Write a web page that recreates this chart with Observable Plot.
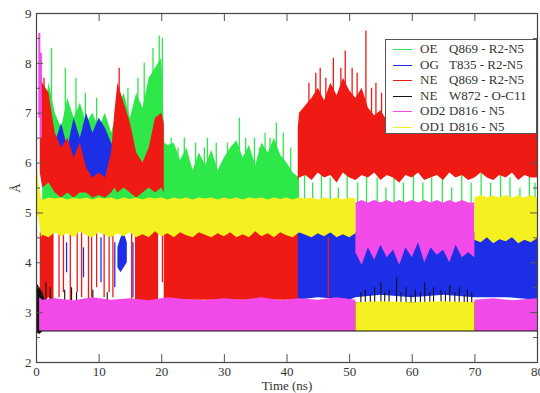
<!DOCTYPE html>
<html>
<head>
<meta charset="utf-8">
<script src="https://cdn.jsdelivr.net/npm/d3@7"></script>
<script src="https://cdn.jsdelivr.net/npm/@observablehq/plot@0.6"></script>
<style>
  html, body { margin: 0; padding: 0; background: #fff; }
  #wrap { position: relative; width: 540px; height: 393px; }
  #wrap svg, #wrap svg text { font-family: "Liberation Serif", "DejaVu Serif", "Times New Roman", serif !important; }
  #legend { position: absolute; left: 385px; top: 39px; width: 150px; height: 93px;
    border: 1px solid #555; background: #fff; font-family: "Liberation Serif", "DejaVu Serif", serif;
    font-size: 13px; color: #333; }
  .row { position: absolute; left: 0; height: 15px; width: 150px; }
  .swatch { position: absolute; left: 7px; top: 8px; width: 19px; height: 1px; }
  .a { position: absolute; left: 34px; top: 0; line-height: 15px; }
  .b { position: absolute; left: 63px; top: 0; line-height: 15px; }
</style>
</head>
<body>
<div id="wrap"></div>
<script>
// ---- axis ticks ----
const xTicks = [0, 10, 20, 30, 40, 50, 60, 70, 80];
const yTicks = [2, 3, 4, 5, 6, 7, 8, 9];
const yMinor = [2.5, 3.5, 4.5, 5.5, 6.5, 7.5, 8.5];

// ---- legend ----
const seriesAtom = ["OE", "OG", "NE", "NE", "OD2", "OD1"];
const seriesPair = ["Q869 - R2-N5", "T835 - R2-N5", "Q869 - R2-N5", "W872 - O-C11", "D816 - N5", "D816 - N5"];
const seriesColor = ["#2ee84a", "#1c2fe6", "#f01a14", "#111111", "#f24ae8", "#f5f020"];

// ---- bands: [time ns, low Å, high Å]; null row = gap ----
const greenBand = [
[1,5.0,6.8],[2,5.0,7.6],[3,5.0,7.0],[4,5.0,6.7],[5,5.0,7.3],[6,5.0,6.9],[7,5.0,7.2],[8,5.0,6.8],[9,5.0,7.0],[10,5.0,6.7],
[11,5.0,7.0],[12,5.0,6.6],[13,5.0,7.1],[14,5.0,7.4],[15,5.0,6.9],[16,5.0,7.4],[17,5.0,7.1],[18,5.0,7.7],[19,5.0,7.9],[20,5.0,8.1],
[20.5,5.0,6.4],[21,5.0,6.35],[22,5.0,6.4],[23,5.0,6.05],[24,5.0,6.3],[25,5.0,5.85],[26,5.0,6.2],[27,5.0,5.95],[28,5.0,6.25],[29,5.0,5.85],[30,5.0,6.1],
[31,5.0,6.3],[32,5.0,6.45],[33,5.0,6.1],[34,5.0,6.35],[35,5.0,5.95],[36,5.0,6.4],[37,5.0,6.2],[38,5.0,6.5],[39,5.0,6.15],[40,5.0,6.0],[41,5.0,5.8],[42,5.0,5.7]];
const greenSpikes = [[2.4,5.5,8.3],[4.6,5.5,7.9],[6.3,5.5,7.7],[7.8,5.5,7.4],[9.6,5.5,7.3],[14.6,5.5,7.5],[16.2,5.5,7.7],
[17.2,5.5,8.0],[18.6,5.5,8.3],[19.6,5.5,8.55],[20.1,5.5,8.5],
[21.5,5.5,6.5],[22.6,5.5,6.3],[23.6,5.3,6.5],[25.4,5.5,6.4],[26.8,5.5,6.3],[27.3,5.3,6.5],[28.7,5.5,6.4],[30.5,5.5,6.4],[32.4,5.3,6.9],
[33.4,5.5,6.5],[34.8,5.5,6.5],[35.6,5.5,6.3],[36.5,5.3,6.6],[37.3,5.5,6.5],[38.3,5.3,6.8],[39.4,5.5,6.6],[40.6,5.5,6.3],
[42.8,5.2,5.8],[44.1,5.2,5.6],[45.5,5.2,5.9],[46.9,5.2,5.7],[48.2,5.2,5.5],[49.6,5.2,5.8],[51.3,5.2,5.6],[52.7,5.2,5.9],
[54.4,5.2,5.7],[55.8,5.2,5.5],[57.1,5.2,5.8],[58.6,5.2,5.6],[60.2,5.2,5.9],[61.7,5.2,5.6],[63.1,5.2,5.7],[64.8,5.2,5.8],
[66.3,5.2,5.5],[67.9,5.2,5.9],[69.4,5.2,5.6],[71,5.2,5.8],[72.5,5.2,5.6],[74.1,5.2,5.9],[75.6,5.2,5.7],[77.2,5.2,5.5],[78.7,5.2,5.8],[79.6,5.2,5.6]];

const blueUpper = [[2.5,5.6,6.3],[3,5.6,6.4],[4,5.5,6.8],[5,5.7,6.3],[6,5.5,6.9],[7,5.6,6.5],[8,5.5,7.0],[9,5.4,6.6],[10,5.5,6.9],
[11,5.6,6.7],[12,5.7,6.4],[13,5.8,6.2],[14,5.6,6.0],[15,5.7,6.3],[16,5.6,5.9]];
const blueLower = [[13,3.9,4.3],[13.5,3.8,4.5],[14,3.9,4.6],[14.5,4.0,4.4],[14.6,null,null],
[41.6,3.25,4.6],[45,3.3,4.6],[50,3.25,4.6],[51,3.3,4.6],[55,3.35,4.6],[60,3.3,4.6],[65,3.35,4.6],[70,3.3,4.6],[75,3.3,4.6],[80,3.25,4.6]];
const blueSpikes = [[0.9,3.3,3.6],[2.5,3.6,4.4],[4.8,3.8,4.4],[7.5,3.7,4.3],[10.3,3.6,4.5],[12.5,3.5,4.4],[15.4,3.3,4.4],[17.5,3.6,4.5]];

const redUpper = [[0.6,5.8,8.0],[1,5.5,7.6],[2,5.6,7.4],[3,5.4,6.6],[4,5.3,6.3],[5,5.4,6.5],[6,5.3,6.1],[7,5.4,6.4],[8,5.4,5.9],
[9,5.3,5.7],[10,5.35,5.8],[11,5.3,5.7],[12,5.4,6.2],[12.5,5.5,7.0],[13,5.4,7.6],[14,5.5,7.2],[15,5.4,6.8],[16,5.3,6.2],[17,5.4,6.0],
[18,5.5,6.3],[19,5.4,6.9],[20,5.5,7.0],[20.4,5.4,6.8],[20.5,null,null],
[41.8,5.65,6.7],[42,5.7,7.0],[43,5.75,7.15],[44,5.65,7.3],[45,5.8,7.5],[46,5.7,7.25],[47,5.75,7.6],[48,5.6,7.35],[49,5.8,7.7],[50,5.7,7.45],
[51,5.65,7.3],[52,5.75,7.5],[53,5.7,7.1],[54,5.8,6.95],[55,5.65,7.05],[56,5.75,6.85],[57,5.7,6.95],[58,5.6,6.8],[59,5.75,7.0],[60,5.7,6.9],
[61,5.8,6.85],[62,5.65,6.95],[63,5.7,6.8],[64,5.75,6.9],[65,5.65,7.0],[66,5.8,6.8],[67,5.7,6.9],[68,5.75,6.85],[69,5.65,6.95],[70,5.7,6.8],
[71,5.8,6.9],[72,5.7,6.85],[73,5.65,6.95],[74,5.75,6.8],[75,5.7,6.9],[76,5.8,6.85],[77,5.65,6.95],[78,5.75,6.8],[79,5.7,6.9],[80,5.7,6.85]];
const redLower = [[0.6,3.3,4.6],[1,3.2,4.6],[2,3.3,4.6],[2.8,3.2,4.6],[2.9,null,null],
[15.8,3.2,4.65],[16,3.1,4.65],[17,3.2,4.65],[18,3.1,4.65],[19,3.2,4.65],[19.5,3.1,4.65],[19.6,null,null],
[20.4,3.25,4.65],[25,3.25,4.65],[30,3.25,4.65],[35,3.25,4.65],[41.8,3.25,4.65]];
const redSpikes = [[1.2,6.0,7.7],[13.2,6.0,7.9],[43.5,6.8,7.6],[44.6,6.8,7.8],[45.3,6.5,7.9],[46.2,6.8,7.7],[47.4,6.5,8.1],[48.6,6.8,7.9],
[49.3,6.5,8.25],[50.4,6.8,7.9],[51.2,6.5,7.8],[52.6,6.5,8.65],[53.5,6.8,7.5],[54.2,6.5,7.6],[55.1,6.8,7.4],
[3.6,3.3,4.6],[4.3,3.4,4.6],[5.4,3.2,4.6],[6.5,3.4,4.6],[7.2,3.3,4.6],[8.3,3.2,4.6],[8.8,3.3,4.6],[9.6,3.5,4.6],[10.8,3.3,4.6],
[11.6,3.4,4.6],[12.2,3.3,4.6],[15.2,3.2,4.6],[20.1,3.6,4.6],[46.6,3.3,4.5]];

const blackBand = [[0,2.6,3.6],[0.5,2.56,3.5],[1,2.61,3.4],[1.5,2.61,3.2],[80,2.61,3.2]];
const blackSpikes = [[1.5,3.0,3.6],[2.2,3.0,3.5],[4.5,3.0,3.45],[5.6,3.0,3.5],[6.4,3.0,3.4],[9,3.0,3.45],[11.3,3.0,3.4],
[51.8,3.0,3.4],[52.5,3.0,3.45],[53.3,3.0,3.35],[54,3.0,3.5],[55,3.0,3.6],[55.6,3.0,3.4],[56.3,3.0,3.45],[57.5,3.0,3.7],[58.2,3.0,3.4],
[59,3.0,3.5],[59.8,3.0,3.35],[60.5,3.0,3.45],[61.3,3.0,3.4],[62,3.0,3.6],[62.8,3.0,3.4],[63.4,3.0,3.5],[64.6,3.0,3.45],[65.3,3.0,3.4],
[66,3.0,3.55],[66.8,3.0,3.4],[67.5,3.0,3.5],[68.3,3.0,3.35],[68.8,3.0,3.45],[69.5,3.0,3.4]];

const magentaLow = [[0.5,2.63,3.3],[1,2.63,3.25],[3,2.63,3.28],[6,2.63,3.24],[9,2.63,3.3],[12,2.63,3.25],[15,2.63,3.28],[18,2.63,3.24],
[21,2.63,3.3],[24,2.63,3.26],[27,2.63,3.24],[30,2.63,3.28],[33,2.63,3.25],[36,2.63,3.3],[39,2.63,3.24],[42,2.63,3.28],[45,2.63,3.25],
[48,2.63,3.3],[51,2.63,3.25],[51.05,null,null],
[70,2.63,3.25],[73,2.63,3.28],[76,2.63,3.24],[80,2.63,3.28]];
const magentaHigh = [[51,4.2,5.2],[52,3.95,5.25],[53,4.3,5.2],[54,4.05,5.25],[55,4.35,5.2],[56,4.1,5.25],[57,4.25,5.2],[58,3.95,5.25],
[59,4.3,5.2],[60,4.1,5.25],[61,4.4,5.2],[62,4.0,5.25],[63,4.3,5.2],[64,4.15,5.25],[65,4.25,5.2],[66,4.0,5.25],[67,4.35,5.2],[68,4.1,5.25],
[69,4.2,5.2],[70,4.1,5.2]];
const magentaSpikes = [[0.45,6.9,8.6],[0.7,6.5,8.2]];

const yellowHigh = [[0,5.0,6.1],[0.4,4.9,5.6],[0.8,4.5,5.3],[1,4.55,5.25],[2,4.5,5.3],[3,4.6,5.28],[4,4.52,5.3],[5,4.58,5.26],[6,4.5,5.3],
[7,4.62,5.27],[8,4.54,5.3],[9,4.5,5.26],[10,4.6,5.3],[11,4.55,5.28],[12,4.5,5.3],[13,4.58,5.26],[14,4.52,5.3],[15,4.6,5.27],[16,4.5,5.3],
[17,4.56,5.26],[18,4.5,5.3],[19,4.62,5.28],[20,4.52,5.3],[21,4.58,5.26],[22,4.5,5.3],[23,4.6,5.27],[24,4.54,5.3],[25,4.5,5.26],[26,4.6,5.3],
[27,4.55,5.28],[28,4.5,5.3],[29,4.58,5.26],[30,4.52,5.3],[31,4.6,5.27],[32,4.5,5.3],[33,4.56,5.26],[34,4.5,5.3],[35,4.62,5.28],[36,4.52,5.3],
[37,4.58,5.26],[38,4.5,5.3],[39,4.6,5.27],[40,4.54,5.3],[41,4.5,5.26],[42,4.6,5.3],[43,4.55,5.28],[44,4.5,5.3],[45,4.58,5.26],[46,4.52,5.3],
[47,4.6,5.27],[48,4.5,5.3],[49,4.56,5.26],[50,4.5,5.3],[51,4.58,5.28],[51.05,null,null],
[70,4.45,5.3],[71,4.4,5.35],[72,4.5,5.3],[73,4.38,5.34],[74,4.46,5.3],[75,4.42,5.35],[76,4.5,5.3],[77,4.38,5.34],[78,4.45,5.3],[79,4.4,5.35],[80,4.48,5.3]];
const yellowLow = [[51,2.63,3.2],[55,2.63,3.22],[60,2.63,3.2],[65,2.63,3.22],[70,2.63,3.2]];

const [cG, cB, cR, cK, cM, cY] = seriesColor;
const band = (rows, fill) => Plot.areaY(rows, {x: d => d[0], y1: d => d[1], y2: d => d[2], fill, curve: "linear"});
const spikes = (rows, stroke, w = 1.3) => Plot.ruleX(rows, {x: d => d[0], y1: d => d[1], y2: d => d[2], stroke, strokeWidth: w});

const W = 540, H = 393, mL = 36, mR = 3, mT = 13, mB = 31;
const plotW = W - mL - mR, plotH = H - mT - mB;
const tickStroke = "#555";

const chart = Plot.plot({
  width: W, height: H,
  marginLeft: mL, marginRight: mR, marginTop: mT, marginBottom: mB,
  x: {domain: [0, 80]},
  y: {domain: [2, 9]},
  style: {fontFamily: "Liberation Serif, DejaVu Serif, serif", fontSize: "13px", color: "#333", background: "#fff"},
  marks: [
    band(greenBand, cG), spikes(greenSpikes, cG),
    band(blueUpper, cB), band(blueLower, cB), spikes(blueSpikes, cB),
    band(redUpper, cR), band(redLower, cR), spikes(redSpikes, cR),
    band(blackBand, cK), spikes(blackSpikes, cK, 1.1),
    band(magentaLow, cM), band(magentaHigh, cM), spikes(magentaSpikes, cM, 2),
    band(yellowHigh, cY), band(yellowLow, cY),
    // inward ticks on all four sides
    Plot.ruleX(xTicks, {x: d => d, insetTop: plotH - 8, stroke: tickStroke}),
    Plot.ruleX(xTicks, {x: d => d, insetBottom: plotH - 8, stroke: tickStroke}),
    Plot.ruleY(yTicks, {y: d => d, insetRight: plotW - 7, stroke: tickStroke}),
    Plot.ruleY(yMinor, {y: d => d, insetRight: plotW - 4, stroke: tickStroke}),
    Plot.ruleY(yTicks, {y: d => d, insetLeft: plotW - 7, stroke: tickStroke}),
    Plot.ruleY(yMinor, {y: d => d, insetLeft: plotW - 4, stroke: tickStroke}),
    Plot.frame({stroke: "#444", strokeWidth: 1.2}),
    Plot.axisX({ticks: xTicks, tickSize: 0, tickPadding: 4, tickFormat: d3.format("d"), label: "Time (ns)", labelAnchor: "center", labelArrow: "none", labelOffset: 27, fontSize: 13}),
    Plot.axisY({ticks: yTicks, tickSize: 0, tickPadding: 5, tickFormat: d3.format("d"), label: "Å", labelAnchor: "center", labelArrow: "none", labelOffset: 26, fontSize: 13})
  ]
});

const wrap = document.getElementById("wrap");
wrap.appendChild(chart);

const legend = document.createElement("div");
legend.id = "legend";
seriesAtom.forEach((a, i) => {
  const row = document.createElement("div");
  row.className = "row";
  row.style.top = (1 + i * 15.6) + "px";
  const sw = document.createElement("div");
  sw.className = "swatch";
  sw.style.background = seriesColor[i];
  const ta = document.createElement("span");
  ta.className = "a"; ta.textContent = a;
  const tb = document.createElement("span");
  tb.className = "b"; tb.textContent = seriesPair[i];
  row.append(sw, ta, tb);
  legend.appendChild(row);
});
wrap.appendChild(legend);
</script>
</body>
</html>
